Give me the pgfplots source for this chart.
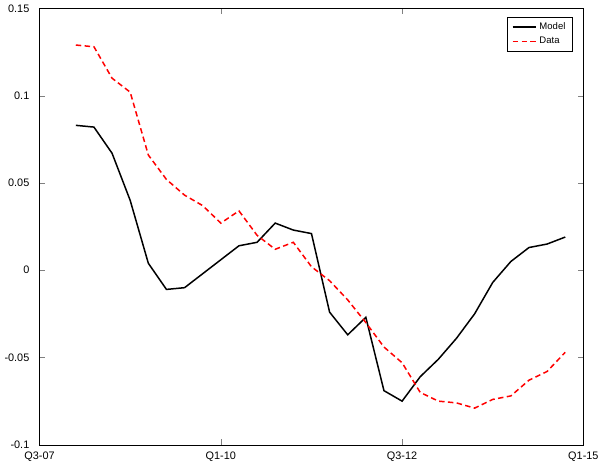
\documentclass[border=0pt]{standalone}
\usepackage{pgfplots}
\pgfplotsset{compat=1.18}
\usepackage{fontspec}
\setmainfont{Liberation Sans}
\begin{document}
\begin{tikzpicture}
\begin{axis}[width=400pt,height=321pt,scale only axis,
 xmin=0,xmax=30,ymin=-0.1,ymax=0.15,
 xtick={0,10,20,30},xticklabels={Q3-07,Q1-10,Q3-12,Q1-15},
 ytick={-0.1,-0.05,0,0.05,0.1,0.15},
 yticklabels={-0.1,-0.05,0,0.05,0.1,0.15},
 tick align=inside, tick pos=both,
 ticklabel style={font=\footnotesize},
 yticklabel style={xshift=-4pt},
 xticklabel style={yshift=-2pt},
 legend image post style={line width=1.3pt},
 legend style={at={(0.98,0.98)},anchor=north east,font=\scriptsize,cells={anchor=west}},
 legend cell align=left]
\addplot[black,line width=1.1pt] coordinates {(2,0.083)(3,0.082)(4,0.067)(5,0.040)(6,0.004)(7,-0.011)(8,-0.010)(9,-0.002)(10,0.006)(11,0.014)(12,0.016)(13,0.027)(14,0.023)(15,0.021)(16,-0.024)(17,-0.037)(18,-0.027)(19,-0.069)(20,-0.075)(21,-0.061)(22,-0.051)(23,-0.039)(24,-0.025)(25,-0.007)(26,0.005)(27,0.013)(28,0.015)(29,0.019)};
\addplot[red,line width=1.1pt,dash pattern=on 4pt off 2.5pt] coordinates {(2,0.129)(3,0.128)(4,0.110)(5,0.102)(6,0.066)(7,0.052)(8,0.043)(9,0.037)(10,0.027)(11,0.034)(12,0.020)(13,0.012)(14,0.016)(15,0.002)(16,-0.006)(17,-0.017)(18,-0.030)(19,-0.044)(20,-0.053)(21,-0.070)(22,-0.075)(23,-0.076)(24,-0.079)(25,-0.074)(26,-0.072)(27,-0.063)(28,-0.058)(29,-0.047)};
\legend{Model,Data}
\end{axis}
\end{tikzpicture}
\end{document}
